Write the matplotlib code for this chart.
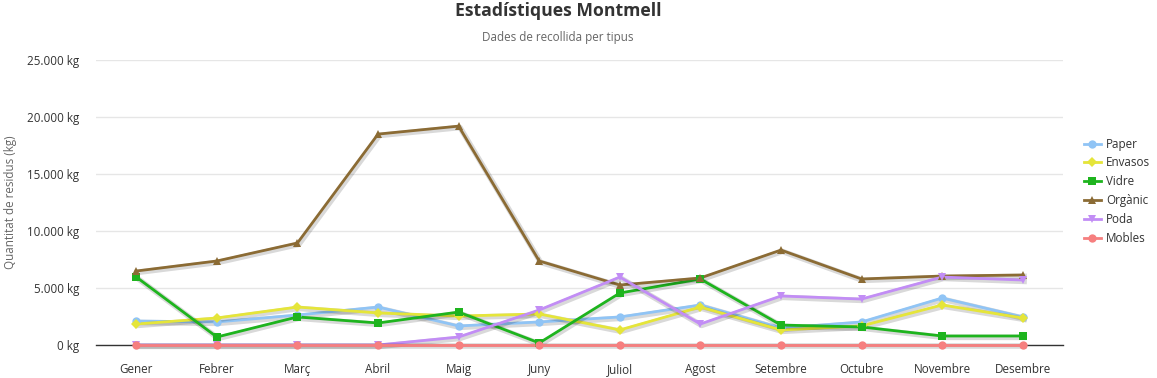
import matplotlib
matplotlib.use("Agg")
import matplotlib.pyplot as plt
import matplotlib.patheffects as pe
from matplotlib.ticker import FuncFormatter, MultipleLocator

plt.rcParams['font.family'] = ['Open Sans', 'DejaVu Sans']

months = ["Gener", "Febrer", "Març", "Abril", "Maig", "Juny", "Juliol",
          "Agost", "Setembre", "Octubre", "Novembre", "Desembre"]

paper   = [2100, 2020, 2630, 3330, 1670, 2020, 2460, 3510, 1490, 2020, 4120, 2460]
envasos = [1840, 2370, 3330, 2810, 2540, 2720, 1320, 3330, 1320, 1670, 3510, 2370]
vidre   = [5960, 700, 2460, 1930, 2890, 180, 4560, 5790, 1750, 1580, 790, 790]
organic = [6490, 7370, 8950, 18500, 19200, 7370, 5260, 5880, 8330, 5790, 6050, 6140]
poda    = [0, 0, 0, 0, 700, 3070, 5960, 1840, 4300, 4030, 5960, 5700]
mobles  = [0, 0, 0, 0, 0, 0, 0, 0, 0, 0, 0, 0]

series = [
    ("Paper", paper, "#90c4f5", "o", 6.0),
    ("Envasos", envasos, "#e5e53a", "D", 4.6),
    ("Vidre", vidre, "#1eb41e", "s", 5.6),
    ("Orgànic", organic, "#8b6b34", "^", 6.0),
    ("Poda", poda, "#c28df5", "v", 6.0),
    ("Mobles", mobles, "#f67f7f", "o", 6.0),
]

fig = plt.figure(figsize=(11.57, 3.78), dpi=100)
ax = fig.add_axes([96/1157, 33/378, (1063-96)/1157, (345-60)/378])

x = list(range(len(months)))
shadow = [pe.SimpleLineShadow(offset=(1, -1), shadow_color="#000000", alpha=0.15, linewidth=4),
          pe.Normal()]
for name, vals, col, mk, ms in series:
    ax.plot(x, vals, color=col, linewidth=2, path_effects=shadow, zorder=3, clip_on=False)
    ax.plot(x, vals, color=col, linestyle="none", marker=mk, markersize=ms,
            markeredgewidth=0, zorder=4, clip_on=False)
    ax.plot([], [], color=col, linewidth=2, marker=mk, markersize=ms,
            markeredgewidth=0, label=name)

ax.set_xlim(-0.5, len(months) - 0.5)
ax.set_ylim(0, 25000)
ax.yaxis.set_major_locator(MultipleLocator(5000))
ax.yaxis.set_major_formatter(FuncFormatter(lambda v, p: f"{int(v):,} kg".replace(",", ".")))
ax.set_xticks(x)
ax.set_xticklabels(months)
ax.grid(axis="y", color="#e6e6e6", linewidth=1)
ax.set_axisbelow(True)
for s in ["top", "right", "left"]:
    ax.spines[s].set_visible(False)
ax.spines["bottom"].set_color("#333333")
ax.spines["bottom"].set_linewidth(1)
ax.spines["bottom"].set_zorder(2)
ax.tick_params(axis="y", length=0, pad=12, labelsize=8.4, labelcolor="#333333")
ax.tick_params(axis="x", length=0, pad=13, labelsize=8.4, labelcolor="#333333")

fig.text(11/1157, 1 - 202/378, "Quantitat de residus (kg)", rotation=90, ha="center",
         va="center", fontsize=8.4, color="#666666")

fig.text(558/1157, 1 - 11/378, "Estadístiques Montmell", ha="center", va="center",
         fontsize=12.7, fontweight="bold", color="#333333")
fig.text(558/1157, 1 - 38/378, "Dades de recollida per tipus", ha="center", va="center",
         fontsize=8.4, color="#666666")

leg = fig.legend(loc="upper left", bbox_to_anchor=(1079/1157, 1 - 133/378), frameon=False,
                 fontsize=8.4, labelcolor="#333333", handlelength=1.5, handletextpad=0.4,
                 labelspacing=0.5, borderaxespad=0)

fig.savefig("out.png", dpi=100)
